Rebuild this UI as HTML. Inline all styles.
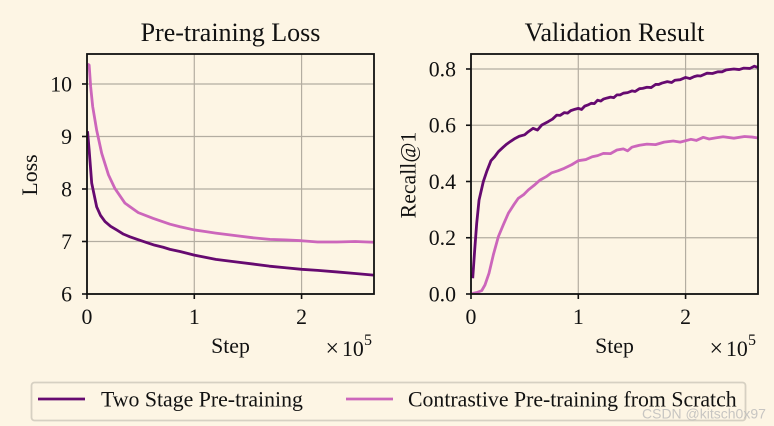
<!DOCTYPE html>
<html>
<head>
<meta charset="utf-8">
<title>Pre-training charts</title>
<style>
html,body{margin:0;padding:0;background:#fdf5e4;}
svg{display:block;}
text{font-family:"Liberation Serif",serif;fill:#111;}
</style>
</head>
<body>
<svg id="figure" width="774" height="426" viewBox="0 0 774 426" xmlns="http://www.w3.org/2000/svg">
<rect width="774" height="426" fill="#fdf5e4"/>
<g id="loss-chart"></g>
<g id="recall-chart"></g>
<g>
<rect x="31.5" y="382.5" width="714" height="38" rx="3" fill="#fdf5e4" stroke="#d6d0c2" stroke-width="1.8"/>
<line x1="38" y1="399" x2="85" y2="399" stroke="#660a70" stroke-width="2.8"/>
<text x="101" y="406.5" font-size="21.8">Two Stage Pre-training</text>
<line x1="346" y1="399" x2="393" y2="399" stroke="#cc66bb" stroke-width="2.8"/>
<text x="408" y="406.5" font-size="21.8">Contrastive Pre-training from Scratch</text>
</g>
<text x="642" y="418.5" font-size="14" style="font-family:'Liberation Sans',sans-serif;fill:#b9b9b9;fill-opacity:.8">CSDN @kitsch0x97</text>
</svg>
<script>
const lossSteps = [0.005,0.02,0.044,0.09,0.125,0.168,0.22,0.277,0.34,0.40,0.47,0.556,0.63,0.71,0.774,0.867,1.0,1.1,1.2,1.395,1.55,1.7,1.85,2.0,2.15,2.33,2.5,2.67];
const lossTwoStage = [9.1,8.74,8.11,7.66,7.50,7.38,7.29,7.22,7.14,7.09,7.04,6.98,6.93,6.89,6.85,6.81,6.74,6.70,6.66,6.61,6.57,6.53,6.50,6.47,6.45,6.42,6.39,6.36];
const lossStepsPink = [0.005,0.02,0.034,0.053,0.09,0.137,0.2,0.26,0.354,0.478,0.618,0.774,0.867,1.0,1.1,1.2,1.395,1.55,1.705,1.85,2.0,2.15,2.33,2.5,2.67];
const lossContrastive = [10.38,10.36,9.95,9.57,9.12,8.68,8.27,8.01,7.73,7.55,7.44,7.33,7.28,7.22,7.19,7.16,7.11,7.07,7.04,7.03,7.015,6.99,6.99,7.0,6.985];

const recallStepsDark = [0.016,0.035,0.053,0.075,0.115,0.146,0.186,0.22,0.255,0.30,0.333,0.37,0.41,0.45,0.50,0.534,0.578,0.62,0.66,0.72,0.76,0.799,0.83,0.87,0.90,0.93,0.97,1.0,1.03,1.06,1.09,1.12,1.15,1.18,1.21,1.234,1.27,1.3,1.33,1.36,1.39,1.42,1.46,1.5,1.53,1.57,1.6,1.64,1.68,1.72,1.75,1.78,1.83,1.87,1.9,1.95,2.0,2.04,2.08,2.11,2.14,2.2,2.25,2.3,2.34,2.38,2.45,2.5,2.54,2.6,2.64,2.67];
const recallTwoStage = [0.056,0.16,0.251,0.334,0.40,0.435,0.474,0.488,0.506,0.522,0.533,0.543,0.553,0.561,0.566,0.577,0.589,0.583,0.601,0.613,0.622,0.636,0.635,0.645,0.643,0.652,0.657,0.66,0.656,0.668,0.672,0.678,0.677,0.689,0.686,0.693,0.697,0.70,0.698,0.708,0.708,0.714,0.716,0.722,0.72,0.73,0.731,0.735,0.734,0.745,0.745,0.75,0.755,0.752,0.76,0.762,0.77,0.766,0.773,0.776,0.775,0.785,0.784,0.79,0.79,0.797,0.80,0.798,0.803,0.802,0.81,0.806];
const recallStepsPink = [0.012,0.06,0.10,0.13,0.168,0.208,0.255,0.30,0.348,0.40,0.44,0.49,0.534,0.59,0.643,0.70,0.752,0.81,0.87,0.94,1.0,1.07,1.13,1.18,1.234,1.3,1.36,1.42,1.46,1.5,1.57,1.64,1.72,1.8,1.885,1.95,2.05,2.1,2.165,2.22,2.28,2.35,2.45,2.55,2.62,2.67];
const recallContrastive = [0.002,0.006,0.012,0.032,0.074,0.139,0.204,0.245,0.287,0.318,0.34,0.353,0.37,0.387,0.405,0.417,0.431,0.438,0.447,0.46,0.474,0.478,0.488,0.492,0.50,0.499,0.512,0.516,0.509,0.522,0.529,0.533,0.531,0.54,0.544,0.54,0.55,0.546,0.557,0.551,0.555,0.559,0.554,0.56,0.558,0.555];

const stepTicks = [0,1,2];
const lossTicks = [6,7,8,9,10];
const recallTicks = [0,0.2,0.4,0.6,0.8];

const NS = 'http://www.w3.org/2000/svg';
const PLOT_TOP = 54, PLOT_BOTTOM = 294, PLOT_W = 287;
const STEP_MAX = 2.675;

function make(parent, tag, attrs, txt) {
  const el = document.createElementNS(NS, tag);
  for (const k in attrs) el.setAttribute(k, attrs[k]);
  if (txt !== undefined) el.textContent = txt;
  parent.appendChild(el);
  return el;
}

function drawChart(opts) {
  const root = document.getElementById(opts.id);
  const left = opts.left, right = left + PLOT_W;
  const xScale = v => left + v / STEP_MAX * PLOT_W;
  const yScale = v => PLOT_BOTTOM - (v - opts.yMin) / (opts.yMax - opts.yMin) * (PLOT_BOTTOM - PLOT_TOP);

  const clip = make(root, 'clipPath', {id: opts.id + '-clip'});
  make(clip, 'rect', {x: left, y: PLOT_TOP, width: PLOT_W, height: PLOT_BOTTOM - PLOT_TOP});

  stepTicks.forEach(t => {
    const g = make(root, 'line', {x1: xScale(t), x2: xScale(t), y1: PLOT_TOP, y2: PLOT_BOTTOM, stroke: '#b3ada1', 'stroke-width': 1.2});
    
    
  });
  opts.yTicks.forEach(t => {
    const g = make(root, 'line', {x1: left, x2: right, y1: yScale(t), y2: yScale(t), stroke: '#b3ada1', 'stroke-width': 1.2});
    
    
  });

  opts.series.forEach(s => {
    const pts = s.xs.map((x, i) => xScale(x).toFixed(2) + ',' + yScale(s.ys[i]).toFixed(2)).join(' ');
    const line = make(root, 'polyline', {points: pts, fill: 'none', stroke: s.color, 'stroke-width': 2.8, 'stroke-linejoin': 'round', 'clip-path': 'url(#' + opts.id + '-clip)'});
    
    
  });

  const frame = make(root, 'rect', {x: left, y: PLOT_TOP, width: PLOT_W, height: PLOT_BOTTOM - PLOT_TOP, fill: 'none', stroke: '#111', 'stroke-width': 1.8});
  
  

  stepTicks.forEach(t => {
    const m = make(root, 'line', {x1: xScale(t), x2: xScale(t), y1: PLOT_BOTTOM, y2: PLOT_BOTTOM + 5, stroke: '#111', 'stroke-width': 1.6});
    
    
    const l = make(root, 'text', {x: xScale(t), y: 324, 'font-size': 21.8, 'text-anchor': 'middle'}, String(t));
    
    
  });
  opts.yTicks.forEach(t => {
    const m = make(root, 'line', {x1: left - 5, x2: left, y1: yScale(t), y2: yScale(t), stroke: '#111', 'stroke-width': 1.6});
    
    
    const l = make(root, 'text', {x: left - 15, y: yScale(t) + 7.5, 'font-size': 21.8, 'text-anchor': 'end'}, t.toFixed(opts.decimals));
    
    
  });

  const title = make(root, 'text', {x: left + 143.5, y: 41, 'font-size': 26, 'text-anchor': 'middle'}, opts.title);
  
  

  const xl = make(root, 'text', {x: left + 143.5, y: 353, 'font-size': 21.8, 'text-anchor': 'middle'}, 'Step');
  
  

  const times = make(root, 'text', {x: left + 238.5, y: 356, 'font-size': 24}, '×');
  
  
  const off = make(root, 'text', {x: left + 255, y: 356, 'font-size': 21.8}, '10');
  
  
  const exp = make(root, 'text', {x: left + 277, y: 345, 'font-size': 16}, '5');
  
  

  const yl = make(root, 'text', {transform: 'translate(' + opts.yLabelX + ',175) rotate(-90)', 'font-size': 21.8, 'text-anchor': 'middle'}, opts.yLabel);
  
  
}

drawChart({
  id: 'loss-chart', left: 87, yMin: 6, yMax: 10.571, yTicks: lossTicks, decimals: 0,
  title: 'Pre-training Loss', yLabel: 'Loss', yLabelX: 37,
  series: [
    {name: 'loss-two-stage-line', color: '#660a70', xs: lossSteps, ys: lossTwoStage},
    {name: 'loss-contrastive-line', color: '#cc66bb', xs: lossStepsPink, ys: lossContrastive}
  ]
});
drawChart({
  id: 'recall-chart', left: 471, yMin: 0, yMax: 0.8533, yTicks: recallTicks, decimals: 1,
  title: 'Validation Result', yLabel: 'Recall@1', yLabelX: 415.5,
  series: [
    {name: 'recall-two-stage-line', color: '#660a70', xs: recallStepsDark, ys: recallTwoStage},
    {name: 'recall-contrastive-line', color: '#cc66bb', xs: recallStepsPink, ys: recallContrastive}
  ]
});
</script>
</body>
</html>
